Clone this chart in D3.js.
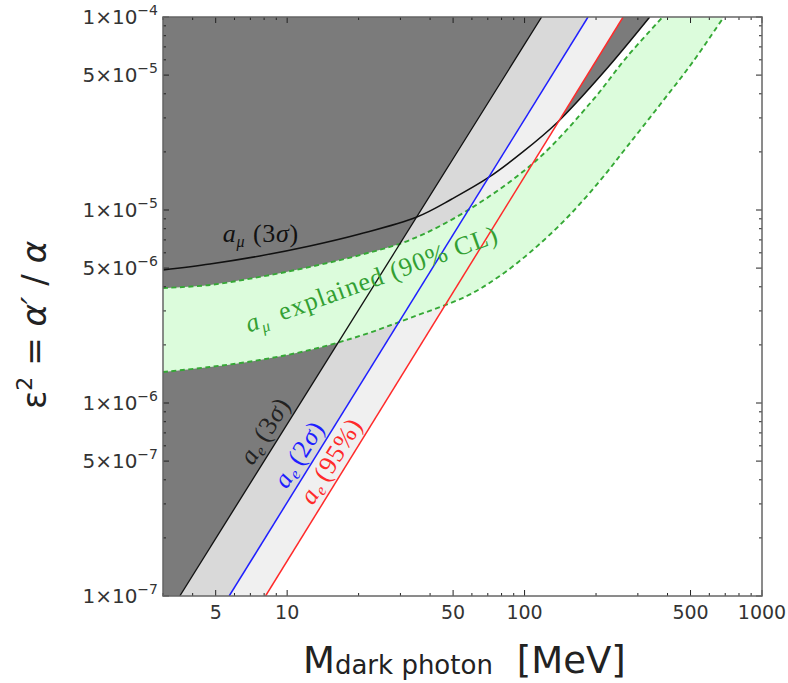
<!DOCTYPE html>
<html>
<head>
<meta charset="utf-8">
<script src="https://cdn.jsdelivr.net/npm/d3@7"></script>
<style>
  body { margin: 0; background: #fff; }
  svg { display: block; }
</style>
</head>
<body>
<svg id="chart" width="788" height="683"></svg>
<script>
// axes
const massDomain = [3, 1000];
const epsDomain = [1e-7, 1e-4];
const massTicks = [5, 10, 50, 100, 500, 1000];
const epsTicks = [1e-7, 5e-7, 1e-6, 5e-6, 1e-5, 5e-5, 1e-4];

// a_e bounds: straight lines, mass where they cross eps = 1e-7 and eps = 1e-4
const aeEps = [1e-7, 1e-4];
const ae3sMass = [3.53, 118];
const ae2sMass = [5.70, 185];
const ae95Mass = [8.11, 260];

// a_mu (3 sigma) bound
const amuMass = [3.0, 4.73, 7.67, 12.46, 20.23, 35.16, 49.4, 70.0, 98.3, 138.0, 217.6, 336.6];
const amuEps = [4.89e-6, 5.25e-6, 5.78e-6, 6.51e-6, 7.51e-6, 9.2e-6, 1.14e-5, 1.465e-5, 2.0e-5, 2.86e-5, 5.25e-5, 1e-4];

// a_mu explained (90% CL) band
const bandHiMass = [3.0, 4.73, 7.67, 12.46, 20.23, 32.86, 58.8, 112.6, 193.8, 269.4, 381.9];
const bandHiEps = [3.94e-6, 4.09e-6, 4.5e-6, 5.07e-6, 5.84e-6, 6.99e-6, 1.012e-5, 1.816e-5, 3.71e-5, 6.2e-5, 1e-4];
const bandLoMass = [3.0, 4.73, 7.67, 12.46, 20.23, 32.86, 57.1, 78.6, 108.3, 150.6, 207.3, 269.4, 371.0, 510.8, 689.9];
const bandLoEps = [1.447e-6, 1.537e-6, 1.67e-6, 1.882e-6, 2.225e-6, 2.756e-6, 3.584e-6, 4.55e-6, 6.204e-6, 9.09e-6, 1.413e-5, 2.12e-5, 3.5e-5, 5.84e-5, 1e-4];

// where labels sit
const aeLabelEps = [4.5e-7, 3.4e-7, 2.8e-7];
const amuLabelAt = [5.36, 6.83e-6];
const bandLabelAt = [6.9, 2.31e-6];

const svg = d3.select("#chart");
const pLeft = 163, pRight = 762, pTop = 17, pBottom = 596;

const x = d3.scaleLog().domain(massDomain).range([pLeft, pRight]);
const y = d3.scaleLog().domain(epsDomain).range([pBottom, pTop]);

svg.append("defs").append("clipPath").attr("id", "plotclip")
  .append("rect").attr("x", pLeft).attr("y", pTop)
  .attr("width", pRight - pLeft).attr("height", pBottom - pTop);

const plot = svg.append("g").attr("clip-path", "url(#plotclip)");

const pts = (ms, es) => ms.map((m, i) => [x(m), y(es[i])]);
const smooth = d3.line().curve(d3.curveCatmullRom.alpha(0.5));
const straight = d3.line();

const ae3s = pts(ae3sMass, aeEps);
const ae2s = pts(ae2sMass, aeEps);
const ae95 = pts(ae95Mass, aeEps);
const amu = pts(amuMass, amuEps);
const bandHi = pts(bandHiMass, bandHiEps);
const bandLo = pts(bandLoMass, bandLoEps);

// dark: above the a_mu curve
plot.append("path")
  .attr("d", smooth(amu) + "L" + x(massDomain[0]) + "," + y(epsDomain[1]) + "Z")
  .attr("fill", "#7b7b7b");

// light bands between a_e lines
plot.append("path")
  .attr("d", straight([ae3s[0], ae3s[1], ae2s[1], ae2s[0]]) + "Z")
  .attr("fill", "#d9d9d9");
plot.append("path")
  .attr("d", straight([ae2s[0], ae2s[1], ae95[1], ae95[0]]) + "Z")
  .attr("fill", "#f0f0f0");

// dark: left of the a_e (3 sigma) line
plot.append("path")
  .attr("d", straight([[x(massDomain[0]), y(epsDomain[0])], ae3s[0], ae3s[1],
    [x(massDomain[0]), y(epsDomain[1])]]) + "Z")
  .attr("fill", "#7b7b7b");

// green band
const loRev = smooth(bandLo.slice().reverse());
plot.append("path")
  .attr("d", smooth(bandHi) + "L" + loRev.slice(1) + "Z")
  .attr("fill", "#dcfcdc");
[bandHi, bandLo].forEach(p => {
  plot.append("path")
    .attr("d", smooth(p))
    .attr("fill", "none")
    .attr("stroke", "#35a835")
    .attr("stroke-width", 1.9)
    .attr("stroke-dasharray", "5,3.5");
});

// curves
plot.append("path").attr("d", smooth(amu))
  .attr("fill", "none").attr("stroke", "#111").attr("stroke-width", 1.5);
plot.append("path").attr("d", straight(ae3s))
  .attr("fill", "none").attr("stroke", "#111").attr("stroke-width", 1.3);
plot.append("path").attr("d", straight(ae2s))
  .attr("fill", "none").attr("stroke", "#1f1fff").attr("stroke-width", 1.5);
plot.append("path").attr("d", straight(ae95))
  .attr("fill", "none").attr("stroke", "#ff2a2a").attr("stroke-width", 1.5);

// labels
const serif = "'Liberation Serif', 'DejaVu Serif', serif";
const lblSize = 26, subSize = 16;

const amuLbl = svg.append("g")
  .attr("transform", `translate(${x(amuLabelAt[0])},${y(amuLabelAt[1])})`);
const amuT = amuLbl.append("text").attr("fill", "#111")
  .attr("font-family", serif).attr("font-size", lblSize).attr("letter-spacing", 0.6);
amuT.append("tspan").attr("font-style", "italic").text("a");
amuT.append("tspan").attr("font-style", "italic").attr("font-size", subSize).attr("dy", 5).text("μ");
amuT.append("tspan").attr("dy", -5).attr("dx", 8).text("(3");
amuT.append("tspan").attr("font-style", "italic").text("σ");
amuT.append("tspan").text(")");

const bandLbl = svg.append("g")
  .attr("transform", `translate(${x(bandLabelAt[0])},${y(bandLabelAt[1])}) rotate(-20)`);
const bandT = bandLbl.append("text").attr("fill", "#33a033")
  .attr("font-family", serif).attr("font-size", lblSize).attr("letter-spacing", 1.1);
bandT.append("tspan").attr("font-style", "italic").text("a");
bandT.append("tspan").attr("font-style", "italic").attr("font-size", subSize).attr("dy", 5).text("μ");
bandT.append("tspan").attr("dy", -5).attr("dx", 12).text("explained (90% CL)");

const aeSets = [
  { line: ae3s, color: "#222", txt: "3", sig: true },
  { line: ae2s, color: "#1f1fff", txt: "2", sig: true },
  { line: ae95, color: "#ff2a2a", txt: "95%)", sig: false }
];
aeSets.forEach((s, i) => {
  const [p0, p1] = s.line;
  const py = y(aeLabelEps[i]);
  const px = d3.scaleLinear().domain([p0[1], p1[1]]).range([p0[0], p1[0]])(py);
  const ang = Math.atan2(p1[1] - p0[1], p1[0] - p0[0]) * 180 / Math.PI;
  const g = svg.append("g").attr("transform", `translate(${px},${py}) rotate(${ang})`);
  const t = g.append("text").attr("fill", s.color)
    .attr("font-family", serif).attr("font-size", lblSize).attr("dy", -7)
    .attr("letter-spacing", 0.8);
  t.append("tspan").attr("font-style", "italic").text("a");
  t.append("tspan").attr("font-style", "italic").attr("font-size", subSize).attr("dy", 4).text("e");
  t.append("tspan").attr("dy", -4).attr("dx", 5).text("(" + s.txt);
  if (s.sig) {
    t.append("tspan").attr("font-style", "italic").text("σ");
    t.append("tspan").text(")");
  }
});

// ticks on all four sides
const sans = "'DejaVu Sans', sans-serif";
const isMajor = (v, list) => list.some(t => Math.abs(Math.log10(v) - Math.log10(t)) < 1e-6);
const axes = svg.append("g").attr("stroke", "#222").attr("stroke-width", 1);

x.ticks().forEach(v => {
  const len = isMajor(v, massTicks) ? 6 : 3;
  const px = x(v);
  axes.append("line").attr("x1", px).attr("x2", px).attr("y1", pBottom).attr("y2", pBottom - len);
  axes.append("line").attr("x1", px).attr("x2", px).attr("y1", pTop).attr("y2", pTop + len);
});
y.ticks().forEach(v => {
  const len = isMajor(v, epsTicks) ? 6 : 3;
  const py = y(v);
  axes.append("line").attr("x1", pLeft).attr("x2", pLeft + len).attr("y1", py).attr("y2", py);
  axes.append("line").attr("x1", pRight).attr("x2", pRight - len).attr("y1", py).attr("y2", py);
});

svg.append("rect").attr("x", pLeft).attr("y", pTop)
  .attr("width", pRight - pLeft).attr("height", pBottom - pTop)
  .attr("fill", "none").attr("stroke", "#666").attr("stroke-width", 1.5);

massTicks.forEach(v => {
  svg.append("text").attr("x", x(v)).attr("y", pBottom + 23)
    .attr("text-anchor", "middle").attr("font-family", sans).attr("font-size", 19)
    .attr("fill", "#333").text(v);
});

epsTicks.forEach(v => {
  const exp = Math.floor(Math.log10(v) + 1e-9);
  const mant = Math.round(v / Math.pow(10, exp));
  const t = svg.append("text").attr("x", pLeft - 5).attr("y", y(v) + 7)
    .attr("text-anchor", "end").attr("font-family", sans).attr("font-size", 20)
    .attr("fill", "#333");
  t.append("tspan").text(mant + "×10");
  t.append("tspan").attr("font-size", 14).attr("dy", -9).text("−" + Math.abs(exp));
});

// axis titles
const xt = svg.append("text").attr("x", 303).attr("y", 673)
  .attr("font-family", sans).attr("fill", "#222");
xt.append("tspan").attr("font-size", 37).text("M");
xt.append("tspan").attr("font-size", 26).attr("dy", 1).text("dark photon");
xt.append("tspan").attr("font-size", 37).attr("dy", -1).attr("dx", 24).text("[MeV]");

const yt = svg.append("text")
  .attr("transform", "translate(46,325) rotate(-90)")
  .attr("text-anchor", "middle").attr("font-family", sans).attr("fill", "#222")
  .attr("font-size", 34);
yt.append("tspan").text("ε");
yt.append("tspan").attr("font-size", 22).attr("dy", -14).text("2");
yt.append("tspan").attr("dy", 14).text(" = ");
yt.append("tspan").attr("font-style", "italic").text("α′");
yt.append("tspan").text(" / ");
yt.append("tspan").attr("font-style", "italic").text("α");
</script>
</body>
</html>
